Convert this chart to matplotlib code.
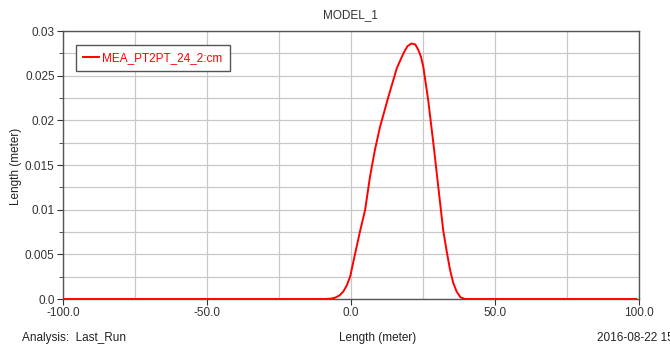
import numpy as np
import matplotlib
matplotlib.use("Agg")
import matplotlib.pyplot as plt
from matplotlib.ticker import MultipleLocator, FormatStrFormatter

# curve (x in meter, y in meter)
length_x = [-100.0, -9.0, -7.0, -5.5, -4.0, -2.7, -1.5, -0.3, 1.4, 3.1, 4.9, 6.6,
            8.3, 10.1, 13.0, 15.9, 18.2, 19.6, 21.0, 22.3, 23.4, 24.3, 25.1, 26.8,
            28.6, 30.3, 32.0, 33.3, 34.4, 35.5, 36.7, 38.0, 39.5, 99.0]
length_y = [0.0, 0.0, 0.00004, 0.00015, 0.0004, 0.00082, 0.0015, 0.0025, 0.00504,
            0.00753, 0.00996, 0.0137, 0.01668, 0.0193, 0.02265, 0.02583, 0.0275,
            0.0283, 0.0286, 0.0285, 0.02787, 0.0271, 0.0260, 0.02228, 0.01743,
            0.01257, 0.00772, 0.0052, 0.00325, 0.0018, 0.00082, 0.0002, 0.0, 0.0]
series_name = "MEA_PT2PT_24_2:cm"
y_tick_labels = ['0.0', '0.005', '0.01', '0.015', '0.02', '0.025', '0.03']

plt.rcParams['font.family'] = ['Liberation Sans', 'DejaVu Sans']

fig = plt.figure(figsize=(6.7, 3.49), dpi=100)
ax = fig.add_axes([63/670, 1 - 299/349, 576/670, 268/349])

ax.plot(length_x, length_y, color='red', lw=1.4, label=series_name, zorder=3)

ax.set_xlim(-100, 100)
ax.set_ylim(0, 0.03)
ax.xaxis.set_major_locator(MultipleLocator(50))
ax.xaxis.set_minor_locator(MultipleLocator(25))
ax.xaxis.set_major_formatter(FormatStrFormatter('%.1f'))
ax.set_yticks(np.arange(0, 0.0301, 0.005))
ax.set_yticklabels(y_tick_labels)
ax.yaxis.set_minor_locator(MultipleLocator(0.0025))

ax.grid(which='both', color='#c8c8c8', lw=0.9)
ax.set_axisbelow(True)
ax.tick_params(axis='x', which='minor', length=0)
ax.tick_params(axis='both', which='major', length=4, labelsize=8.5, colors='#333333', pad=2)
ax.tick_params(axis='y', which='minor', length=3, color='#333333')
for s in ax.spines.values():
    s.set_color('#555555')
    s.set_linewidth(1.0)

leg = ax.legend(loc='upper left', bbox_to_anchor=(0.013, 0.97), fontsize=8.5,
                handlelength=1.3, handletextpad=0.3, fancybox=False, framealpha=1,
                borderpad=0.6)
leg.get_frame().set_edgecolor('#555555')
for t in leg.get_texts():
    t.set_color('red')

fig.text(350/670, 1 - 15/349, 'MODEL_1', ha='center', va='center', fontsize=8.5, color='#333333')
fig.text(22/670, 1 - 338/349, 'Analysis:  Last_Run', ha='left', va='center', fontsize=8.5, color='#222222')
fig.text(378/670, 1 - 338/349, 'Length (meter)', ha='center', va='center', fontsize=8.5, color='#222222')
fig.text(597/670, 1 - 338/349, '2016-08-22 15', ha='left', va='center', fontsize=8.5, color='#222222')
fig.text(16/670, 1 - 166/349, 'Length (meter)', ha='center', va='center', rotation=90,
         fontsize=8.5, color='#222222')

fig.savefig('out.png', dpi=100)
